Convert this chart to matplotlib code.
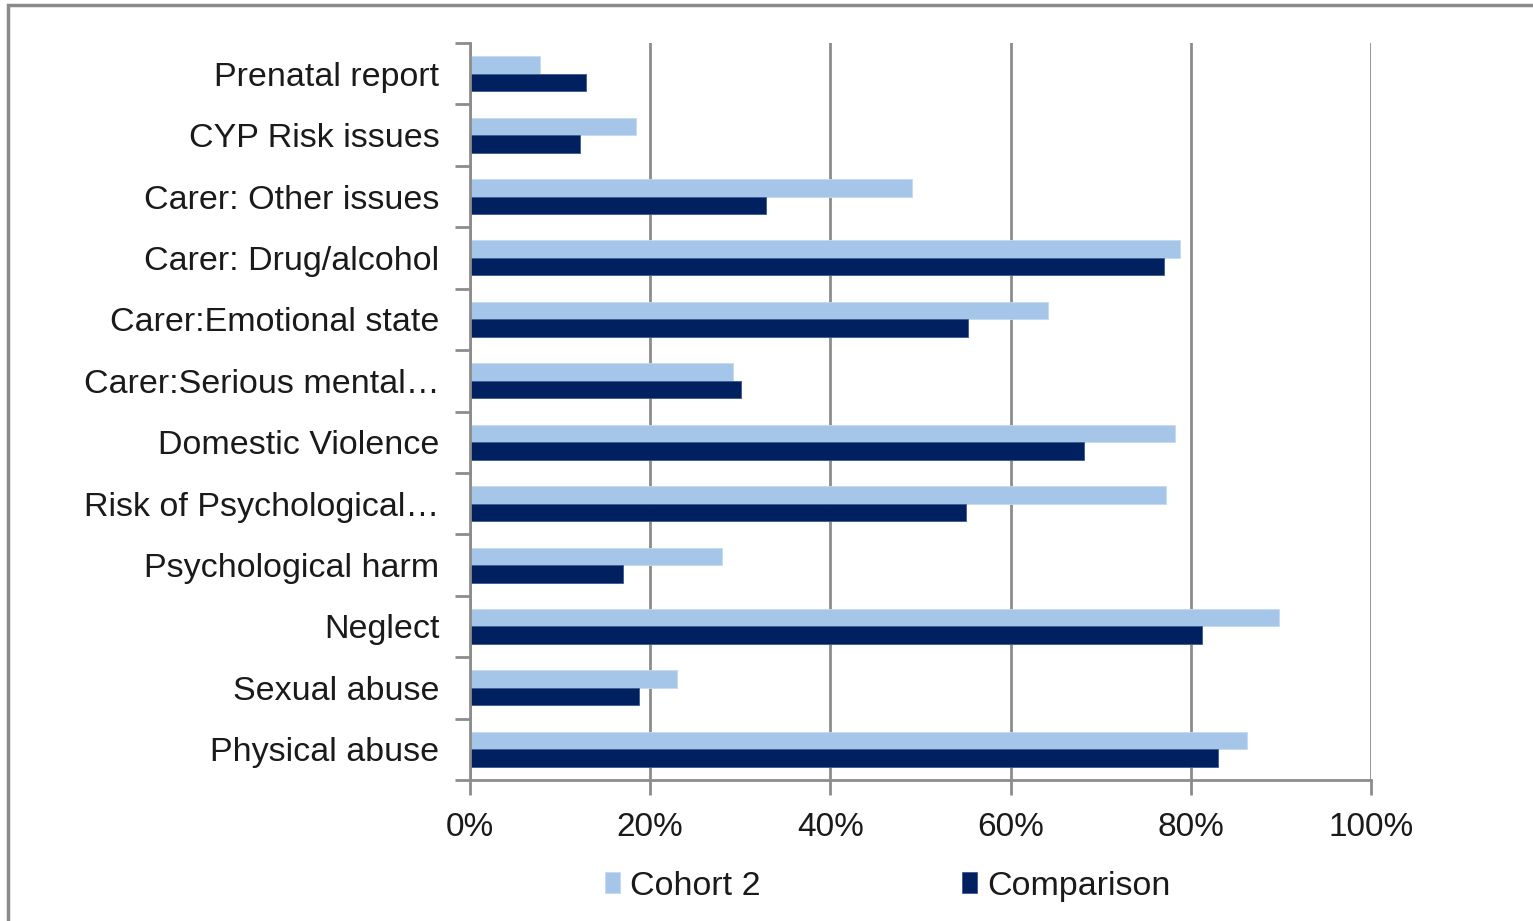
import matplotlib
matplotlib.use("Agg")
import matplotlib.pyplot as plt
from matplotlib.patches import Rectangle
from matplotlib.ticker import FixedLocator, PercentFormatter
import numpy as np

# Categories listed bottom to top (barh draws index 0 at the bottom)
categories = [
    "Physical abuse",
    "Sexual abuse",
    "Neglect",
    "Psychological harm",
    "Risk of Psychological…",
    "Domestic Violence",
    "Carer:Serious mental…",
    "Carer:Emotional state",
    "Carer: Drug/alcohol",
    "Carer: Other issues",
    "CYP Risk issues",
    "Prenatal report",
]
cohort2 = [86.2, 23.0, 89.8, 28.0, 77.3, 78.2, 29.2, 64.2, 78.8, 49.1, 18.4, 7.8]
comparison = [83.0, 18.8, 81.2, 17.0, 55.1, 68.1, 30.1, 55.3, 77.0, 32.8, 12.2, 12.9]
xticks = [0, 20, 40, 60, 80, 100]

LIGHT = "#A5C6E8"
DARK = "#002060"
GRID = "#8C8C8C"

plt.rcParams["font.family"] = ["Liberation Sans", "DejaVu Sans"]

fig = plt.figure(figsize=(15.33, 9.21), dpi=100)
ax = fig.add_axes([0.3066, 0.1531, 0.5877, 0.8002])

y = np.arange(len(categories))
h = 0.285
ax.barh(y + h / 2, cohort2, height=h, color=LIGHT, label="Cohort 2",
        edgecolor="#C4DAF0", linewidth=0.6)
ax.barh(y - h / 2, comparison, height=h, color=DARK, label="Comparison",
        edgecolor="#3A5A90", linewidth=0.6)

ax.set_xlim(0, 100)
ax.set_ylim(-0.5, len(categories) - 0.5)
ax.xaxis.set_major_locator(FixedLocator(xticks))
ax.xaxis.set_major_formatter(PercentFormatter(decimals=0))
ax.set_yticks(y)
ax.set_yticklabels(categories)
ax.yaxis.set_minor_locator(FixedLocator(np.arange(-0.5, len(categories), 1.0)))

ax.grid(axis="x", color=GRID, linewidth=2)
ax.set_axisbelow(True)
for side in ("top", "right"):
    ax.spines[side].set_visible(False)
for side in ("left", "bottom"):
    ax.spines[side].set_color(GRID)
    ax.spines[side].set_linewidth(2)

ax.tick_params(axis="y", which="major", length=0, pad=22, labelsize=24.5,
               labelcolor="#1A1A1A")
ax.tick_params(axis="y", which="minor", length=11, width=2, color=GRID)
ax.tick_params(axis="x", which="major", length=11, width=2, color=GRID,
               pad=12, labelsize=24, labelcolor="#1A1A1A")

leg = fig.legend(loc="center", bbox_to_anchor=(0.579, 0.038), ncol=2,
                 frameon=False, fontsize=24.5, handlelength=0.45, handleheight=0.6,
                 handletextpad=0.3, columnspacing=5.9, labelcolor="#1A1A1A")

# chart area frame
fig.patches.append(Rectangle((8 / 1533, -0.05), 1.2, 1 - 5 / 921 + 0.05,
                             transform=fig.transFigure, fill=False,
                             edgecolor="#8A8A8A", linewidth=2.5))

fig.savefig("out.png", dpi=100, facecolor="white")
